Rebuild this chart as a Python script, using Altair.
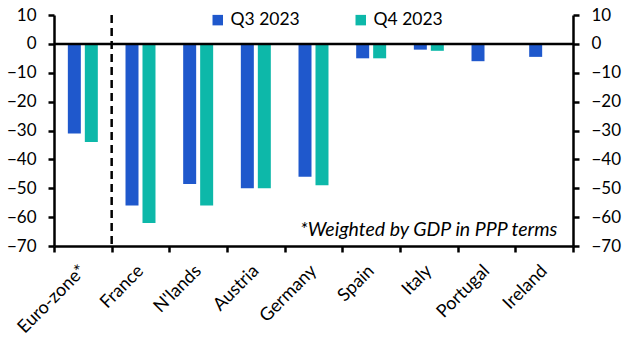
import altair as alt
import pandas as pd

categories = ["Euro-zone*", "France", "N'lands", "Austria", "Germany", "Spain", "Italy", "Portugal", "Ireland"]
q3 = [-31, -56, -48.5, -50, -46, -5, -2, -6, -4.5]
q4 = [-34, -62, -56, -50, -49, -5, -2.4, None, None]
series = ["Q3 2023", "Q4 2023"]
colors = ["#1F58CC", "#0DB8A9"]
y_ticks = [10, 0, -10, -20, -30, -40, -50, -60, -70]

rows = []
for c, a, b in zip(categories, q3, q4):
    rows.append({"cat": c, "series": series[0], "value": a})
    if b is not None:
        rows.append({"cat": c, "series": series[1], "value": b})
df = pd.DataFrame(rows)

FONT = "Lato"
FS = 17
W, H = 519, 231

xscale = alt.Scale(domain=categories, paddingInner=0, paddingOuter=0)
yscale = alt.Scale(domain=[-70, 10], nice=False, zero=False)

def yaxis(orient):
    return alt.Axis(orient=orient, values=y_ticks, labelFontSize=FS, labelFont=FONT, labelColor="black",
                    domainColor="black", domainWidth=2.5, tickColor="black", tickWidth=2.5,
                    tickSize=6, labelPadding=12, grid=False, title=None)

bars = alt.Chart(df).mark_bar().encode(
    x=alt.X("cat:N", scale=xscale, sort=categories, title=None,
            axis=alt.Axis(tickBand="extent", labelAngle=-45, labelAlign="right",
                          labelBaseline="middle", labelFontSize=18, labelFont=FONT,
                          labelColor="black", domainColor="black", domainWidth=2.5,
                          tickColor="black", tickWidth=2.5, tickSize=6, labelPadding=16)),
    xOffset=alt.XOffset("series:N", scale=alt.Scale(domain=series, paddingInner=0.235, paddingOuter=0.815)),
    y=alt.Y("value:Q", scale=yscale, title=None, axis=yaxis("left")),
    color=alt.Color("series:N", scale=alt.Scale(domain=series, range=colors), title=None,
                    legend=alt.Legend(orient="none", legendX=155, legendY=-4, direction="horizontal",
                                      symbolType="square", symbolSize=110, symbolStrokeWidth=0,
                                      labelFontSize=17.5, labelFont=FONT, labelColor="black",
                                      labelOffset=4, columnPadding=52, symbolOpacity=1)),
)

yright = alt.Chart(df).mark_point(opacity=0).encode(
    y=alt.Y("value:Q", scale=yscale, title=None, axis=yaxis("right")),
)

zero = alt.Chart(pd.DataFrame({"v": [0]})).mark_rule(color="black", strokeWidth=2.5).encode(
    y=alt.Y("v:Q", scale=yscale, axis=None)
)

dash = alt.Chart(pd.DataFrame({"cat": ["France"], "top": [10], "bot": [-70]})).mark_rule(
    color="black", strokeWidth=2.5, strokeDash=[8, 5]
).encode(
    x=alt.X("cat:N", scale=xscale, bandPosition=0),
    y=alt.Y("top:Q", scale=yscale, axis=None),
    y2="bot:Q",
)

note = alt.Chart(pd.DataFrame({"cat": ["Ireland"], "v": [-66.5], "t": ["*Weighted by GDP in PPP terms"]})).mark_text(
    align="right", baseline="alphabetic", fontStyle="italic", fontSize=19.5, font=FONT, color="black"
).encode(
    x=alt.X("cat:N", scale=xscale, bandPosition=0.73),
    y=alt.Y("v:Q", scale=yscale, axis=None),
    text="t:N",
)

chart = alt.layer(bars, yright, zero, dash, note).resolve_scale(y="shared").resolve_axis(y="independent").properties(
    width=W, height=H,
    autosize=alt.AutoSizeParams(type="none"),
    padding={"left": 54, "top": 15, "right": 60, "bottom": 108},
).configure_view(stroke=None)

chart.save("out.html", embed_options={"renderer": "svg", "actions": False})
